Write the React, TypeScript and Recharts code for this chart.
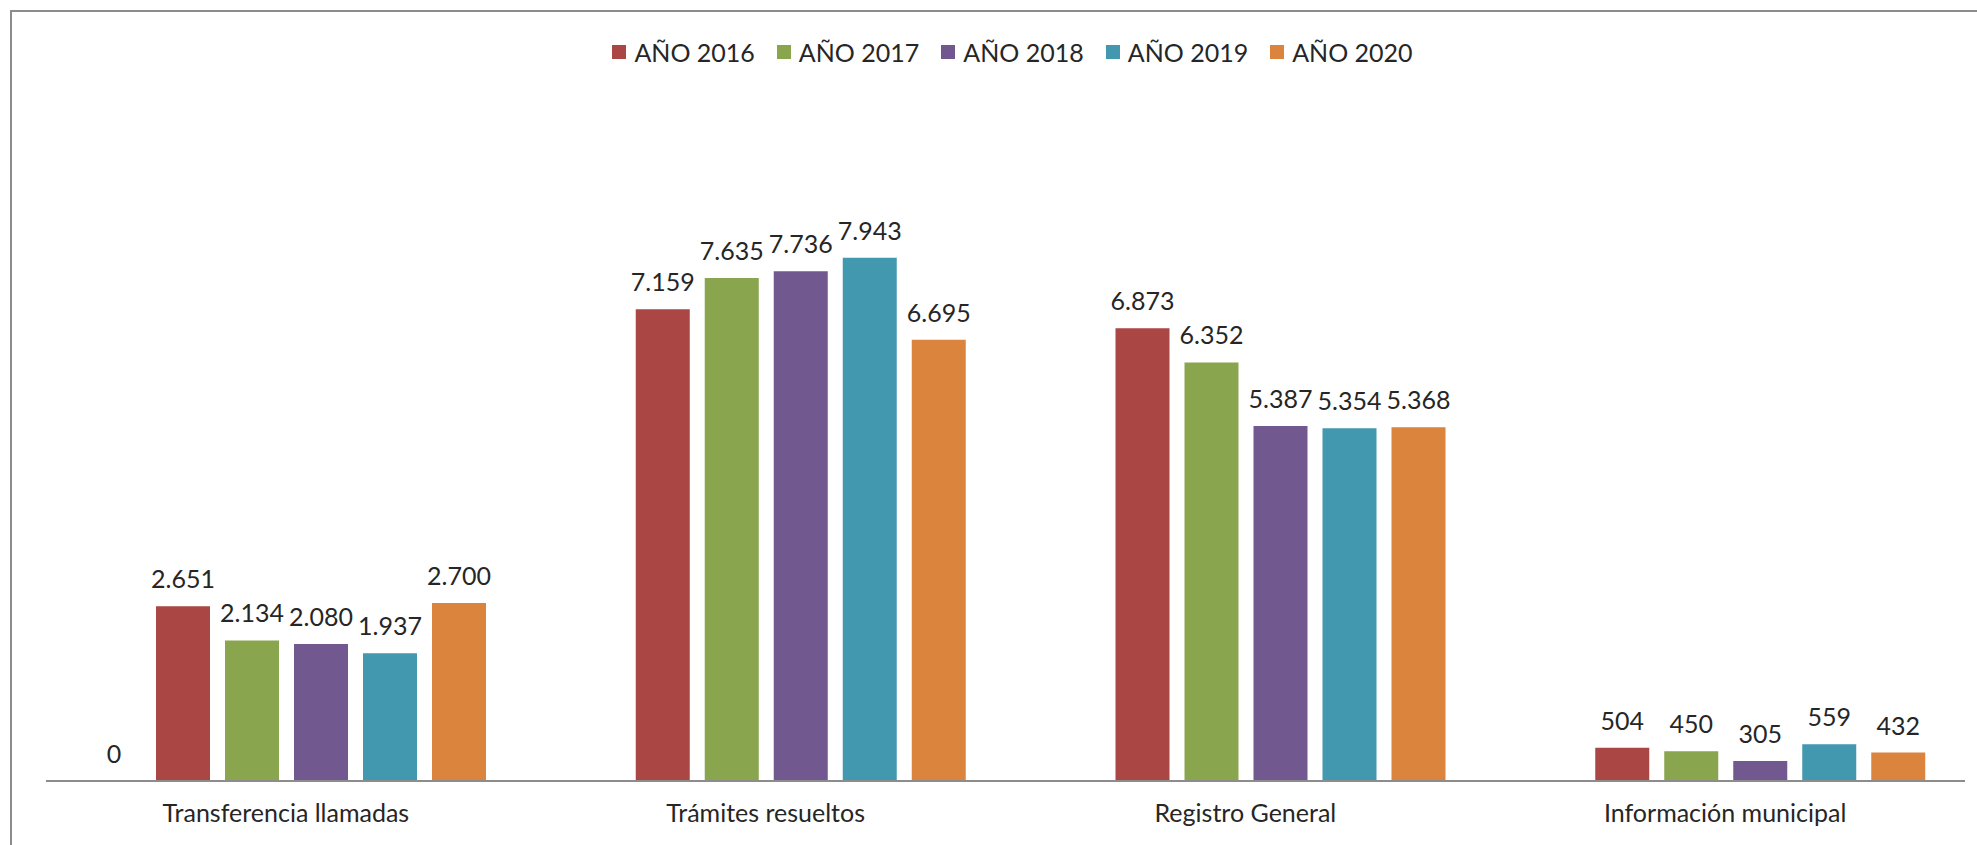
import { Bar, BarChart, LabelList, Legend, XAxis, YAxis } from "recharts";

const categories = [
	"Transferencia llamadas",
	"Trámites resueltos",
	"Registro General",
	"Información municipal",
];

// first series has no legend entry and only the 0 in the first group
const y2015 = [0, null, null, null];
const y2016 = [2651, 7159, 6873, 504];
const y2017 = [2134, 7635, 6352, 450];
const y2018 = [2080, 7736, 5387, 305];
const y2019 = [1937, 7943, 5354, 559];
const y2020 = [2700, 6695, 5368, 432];

const series = [
	{ key: "y2015", name: "AÑO 2015", color: "#4572A7", values: y2015, legend: false },
	{ key: "y2016", name: "AÑO 2016", color: "#AA4643", values: y2016, legend: true },
	{ key: "y2017", name: "AÑO 2017", color: "#89A54E", values: y2017, legend: true },
	{ key: "y2018", name: "AÑO 2018", color: "#71588F", values: y2018, legend: true },
	{ key: "y2019", name: "AÑO 2019", color: "#4198AF", values: y2019, legend: true },
	{ key: "y2020", name: "AÑO 2020", color: "#DB843D", values: y2020, legend: true },
];

const data = categories.map((name, i) => {
	const row: Record<string, any> = { name };
	series.forEach((s) => {
		row[s.key] = s.values[i];
	});
	return row;
});

const FONT = "Lato, 'Open Sans', sans-serif";
const TEXT = "#262626";
const LEGEND_H = 24;
const shown = series.filter((s) => s.legend).map((s) => s.name);

const fmt = (v: any) => {
	if (v === null || v === undefined) return "";
	return String(v).replace(/\B(?=(\d{3})+(?!\d))/g, ".");
};

function LegendContent({ payload }: any) {
	const items = (payload || []).filter((p: any) => shown.includes(p.value));
	return (
		<div
			style={{
				height: LEGEND_H,
				display: "flex",
				justifyContent: "center",
				alignItems: "center",
				gap: 22,
				fontFamily: FONT,
				fontSize: 25,
				color: TEXT,
				paddingLeft: 48,
			}}
		>
			{items.map((p: any) => (
				<div key={p.value} style={{ display: "flex", alignItems: "center" }}>
					<span
						style={{
							width: 14,
							height: 14,
							background: p.color,
							display: "inline-block",
							marginRight: 8,
						}}
					/>
					<span style={{ lineHeight: "24px" }}>{p.value}</span>
				</div>
			))}
		</div>
	);
}

export default function App() {
	return (
		<div
			style={{
				position: "absolute",
				left: 0,
				top: 0,
				width: 1977,
				height: 845,
				background: "#fff",
				overflow: "hidden",
			}}
		>
			<div
				style={{
					position: "absolute",
					left: 10,
					top: 10,
					width: 1980,
					height: 850,
					borderLeft: "2.5px solid #8c8c8c",
					borderTop: "2.5px solid #8c8c8c",
				}}
			/>
			<div style={{ position: "absolute", left: 0, top: 0 }}>
				<BarChart
					width={1977}
					height={845}
					data={data}
					margin={{ top: 188 - LEGEND_H, right: 12, bottom: 34, left: 46 }}
					barCategoryGap={41}
					barGap={15}
				>
					<XAxis
						dataKey="name"
						axisLine={{ stroke: "#8c8c8c", strokeWidth: 2 }}
						tickLine={false}
						tickSize={0}
						tickMargin={23}
						tick={{ fontSize: 25, fill: TEXT, fontFamily: FONT }}
						interval={0}
					/>
					<YAxis hide domain={[0, 9000]} />
					<Legend
						verticalAlign="top"
						content={<LegendContent />}
						wrapperStyle={{ top: 40, left: 0, width: 1977 }}
					/>
					{series.map((s) => (
						<Bar
							key={s.key}
							dataKey={s.key}
							name={s.name}
							fill={s.color}
							minPointSize={(v: any) => (v === 0 ? 0.01 : 0)}
							isAnimationActive={false}
						>
							<LabelList
								dataKey={s.key}
								position="top"
								offset={18}
								formatter={fmt}
								style={{ fontSize: 25, fill: TEXT, fontFamily: FONT }}
							/>
						</Bar>
					))}
				</BarChart>
			</div>
		</div>
	);
}
